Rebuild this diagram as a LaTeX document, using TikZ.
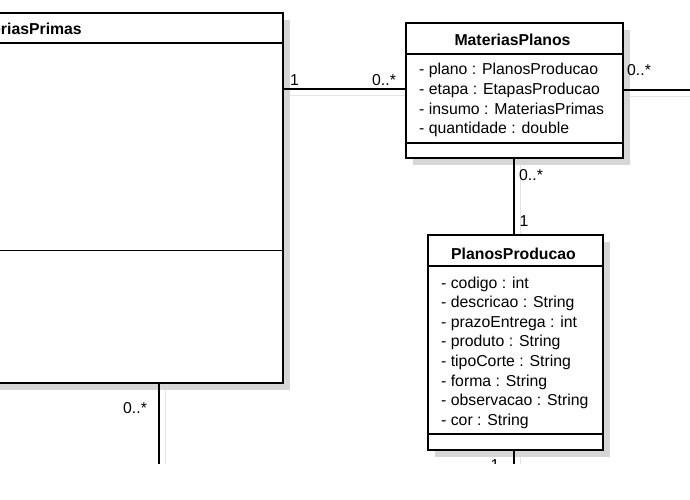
\documentclass[tikz,border=0pt]{standalone}
\usepackage{fontspec}
\setmainfont{Liberation Sans}
\definecolor{shadowgray}{HTML}{D6D6D6}
\definecolor{lineshadow}{HTML}{E4E4E4}
\begin{document}
\begin{tikzpicture}[x=1pt,y=-1pt,
  umlbox/.style={draw=black, line width=2.2pt, fill=white, inner sep=0pt, rectangle},
  divider/.style={draw=black, line width=1.1pt},
  conn/.style={draw=black, line width=1.1pt},
  connshadow/.style={draw=lineshadow, line width=1.3pt},
  attr/.style={anchor=base west, inner sep=0pt, font=\fontsize{15.8}{18}\selectfont},
  ttl/.style={anchor=base, inner sep=0pt, font=\fontsize{15.8}{18}\selectfont\bfseries},
  mult/.style={anchor=base west, inner sep=0pt, font=\fontsize{15.8}{18}\selectfont}]
\useasboundingbox (0,0) rectangle (690,500);
\clip (0,0) rectangle (690,463);
% box nodes (geometry)
\node[umlbox, minimum width=516pt, minimum height=368pt, anchor=north west, fill=none, draw=none] (rm) at (-235,13) {};
\node[umlbox, minimum width=215pt, minimum height=133pt, anchor=north west, fill=none, draw=none] (mp) at (406,23) {};
\node[umlbox, minimum width=173pt, minimum height=213pt, anchor=north west, fill=none, draw=none] (pp) at (428,235) {};
\coordinate (xc) at (514,0);
\coordinate (xl) at (159,0);
\coordinate (yend) at (0,475);
\coordinate (rend) at (700,90);
% connector shadows
\draw[connshadow] ([shift={(7,6.5)}]rm.east |- 0,89) -- ([shift={(7,6.5)}]mp.west |- 0,89);
\draw[connshadow] ([shift={(7,6.5)}]mp.east |- 0,90) -- ([shift={(7,6.5)}]rend);
\draw[connshadow] ([shift={(6.5,7)}]mp.south -| xc) -- ([shift={(6.5,7)}]pp.north -| xc);
\draw[connshadow] ([shift={(6.5,7)}]pp.south -| xc) -- (520.5,475);
\draw[connshadow] ([shift={(6.5,7)}]rm.south -| xl) -- (165.5,475);
% box shadows
\fill[shadowgray] ([shift={(7,7)}]rm.south west) rectangle ([shift={(7,7)}]rm.north east);
\fill[shadowgray] ([shift={(7,7)}]mp.south west) rectangle ([shift={(7,7)}]mp.north east);
\fill[shadowgray] ([shift={(7,7)}]pp.south west) rectangle ([shift={(7,7)}]pp.north east);
% boxes
\draw[umlbox] (rm.south west) rectangle (rm.north east);
\draw[umlbox] (mp.south west) rectangle (mp.north east);
\draw[umlbox] (pp.south west) rectangle (pp.north east);
% dividers
\draw[divider] (rm.west |- 0,43) -- (rm.east |- 0,43);
\draw[divider] (rm.west |- 0,250.5) -- (rm.east |- 0,250.5);
\draw[divider] (mp.west |- 0,54) -- (mp.east |- 0,54);
\draw[divider] (mp.west |- 0,143) -- (mp.east |- 0,143);
\draw[divider] (pp.west |- 0,266) -- (pp.east |- 0,266);
\draw[divider] (pp.west |- 0,434) -- (pp.east |- 0,434);
% titles
\node[ttl, anchor=base east] (rmt) at (82,35) {MateriasPrimas};
\node[ttl] (mpt) at (512.5,45.5) {MateriasPlanos};
\node[ttl] (ppt) at (513.5,259.5) {PlanosProducao};
% attributes MateriasPlanos
\node[attr] (mpa1) at (419,75) {- plano : PlanosProducao};
\node[attr] (mpa2) at (419,94.5) {- etapa : EtapasProducao};
\node[attr] (mpa3) at (419,114) {- insumo : MateriasPrimas};
\node[attr] (mpa4) at (419,133.5) {- quantidade : double};
% attributes PlanosProducao
\node[attr] (ppa1) at (441,288) {- codigo : int};
\node[attr] (ppa2) at (441,307.5) {- descricao : String};
\node[attr] (ppa3) at (441,327) {- prazoEntrega : int};
\node[attr] (ppa4) at (441,346.5) {- produto : String};
\node[attr] (ppa5) at (441,366.5) {- tipoCorte : String};
\node[attr] (ppa6) at (441,386) {- forma : String};
\node[attr] (ppa7) at (441,405.5) {- observacao : String};
\node[attr] (ppa8) at (441,425) {- cor : String};
% connectors
\draw[conn] (rm.east |- 0,89) -- (mp.west |- 0,89);
\draw[conn] (mp.east |- 0,90) -- (rend);
\draw[conn] (mp.south -| xc) -- (pp.north -| xc);
\draw[conn] (pp.south -| xc) -- (xc |- yend);
\draw[conn] (rm.south -| xl) -- (xl |- yend);
% multiplicities
\node[mult] (m1) at (290,86) {1};
\node[mult] (m2) at (372,86) {0..*};
\node[mult] (m3) at (627,76) {0..*};
\node[mult] (m4) at (519,180) {0..*};
\node[mult] (m5) at (519.5,226) {1};
\node[mult] (m6) at (123,413) {0..*};
\node[mult] (m7) at (490.5,470.5) {1};
\end{tikzpicture}
\end{document}
